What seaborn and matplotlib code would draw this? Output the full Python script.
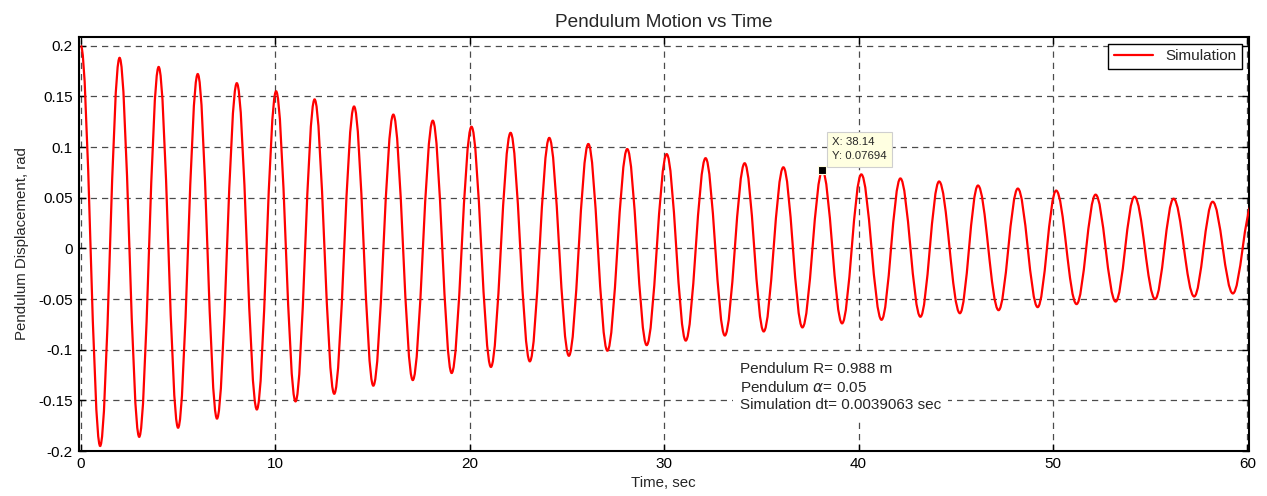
import matplotlib
matplotlib.use("Agg")
import matplotlib.pyplot as plt
from matplotlib.path import Path
from matplotlib.patches import PathPatch
from matplotlib.lines import Line2D
from matplotlib.ticker import FuncFormatter
import pandas as pd
import seaborn as sns

# swing extremes (time in sec, displacement in rad)
peak_time = [0.0, 1.99, 4.00, 6.01, 8.02, 10.04, 12.02, 14.05, 16.07, 18.10,
             20.09, 22.10, 24.09, 26.10, 28.10, 30.13, 32.13, 34.14, 36.13, 38.14,
             40.14, 42.15, 44.14, 46.14, 48.19, 50.16, 52.19, 54.19, 56.20, 58.21,
             60.25]
peak_disp = [0.200, 0.188, 0.179, 0.172, 0.163, 0.155, 0.147, 0.140, 0.132, 0.126,
             0.120, 0.114, 0.109, 0.103, 0.098, 0.093, 0.089, 0.084, 0.080, 0.07694,
             0.073, 0.069, 0.066, 0.062, 0.059, 0.057, 0.053, 0.051, 0.049, 0.046,
             0.044]
trough_time = [0.99, 3.00, 5.00, 7.00, 9.05, 11.04, 13.03, 15.04, 17.07, 19.07,
               21.09, 23.09, 25.10, 27.08, 29.10, 31.11, 33.12, 35.12, 37.11, 39.15,
               41.18, 43.18, 45.21, 47.20, 49.21, 51.21, 53.22, 55.25, 57.26, 59.25]
trough_disp = [-0.195, -0.186, -0.177, -0.168, -0.159, -0.151, -0.1435, -0.1355, -0.130, -0.123,
               -0.117, -0.1115, -0.106, -0.101, -0.0955, -0.091, -0.086, -0.082, -0.078, -0.074,
               -0.0705, -0.0675, -0.064, -0.061, -0.058, -0.055, -0.0525, -0.050, -0.0475, -0.0445]

x_ticks = [0, 10, 20, 30, 40, 50, 60]
y_ticks = [-0.2, -0.15, -0.1, -0.05, 0, 0.05, 0.1, 0.15, 0.2]

tip_x, tip_y = 38.14, 0.07694
pend_R, pend_alpha, sim_dt = 0.988, 0.05, 0.0039063

ext = pd.DataFrame({"t": peak_time + trough_time,
                    "y": peak_disp + trough_disp}).sort_values("t").reset_index(drop=True)

sns.set_style("ticks")
plt.rcParams["font.family"] = ["Liberation Sans", "DejaVu Sans"]
plt.rcParams["axes.unicode_minus"] = False

fig = plt.figure(figsize=(12.67, 4.96), dpi=100)
ax = fig.add_axes([0.062, 0.0907, 0.9238, 0.8347])

# smooth swing between consecutive extremes (flat tangent at each turn)
verts = [(ext.t[0], ext.y[0])]
codes = [Path.MOVETO]
for i in range(1, len(ext)):
    t0, y0 = ext.t[i - 1], ext.y[i - 1]
    t1, y1 = ext.t[i], ext.y[i]
    h = 0.3634 * (t1 - t0)
    verts += [(t0 + h, y0), (t1 - h, y1), (t1, y1)]
    codes += [Path.CURVE4] * 3
ax.add_patch(PathPatch(Path(verts, codes), facecolor="none", edgecolor="red",
                       lw=1.6, zorder=3))

ax.set_xlim(-0.12, 60.08)
ax.set_ylim(-0.2, 0.2086)
ax.set_xticks(x_ticks)
ax.set_yticks(y_ticks)
ax.yaxis.set_major_formatter(FuncFormatter(lambda v, _: f"{v:g}"))
ax.tick_params(direction="in", top=True, right=True, length=5, width=1,
               labelsize=11, pad=4, colors="black")
ax.grid(True, color="black", ls=(0, (5, 4)), lw=0.9, alpha=0.7)
for s in ax.spines.values():
    s.set_linewidth(1.5)
    s.set_color("black")

ax.set_title("Pendulum Motion vs Time", fontsize=13.7, pad=7)
ax.set_xlabel("Time, sec", fontsize=10.8, labelpad=4)
ax.set_ylabel("Pendulum Displacement, rad", fontsize=10.8, labelpad=7)

h = Line2D([], [], color="red", lw=1.6, label="Simulation")
ax.legend(handles=[h], loc="upper right", frameon=True, fancybox=False,
          edgecolor="black", framealpha=1, borderaxespad=0.45, handlelength=2.6,
          fontsize=11, borderpad=0.35)

# data tip
sns.scatterplot(x=[tip_x], y=[tip_y], marker="s", s=40, color="black",
                edgecolor="#fffde0", linewidth=0.8, zorder=5, ax=ax, legend=False)
ax.annotate(f"X: {tip_x}\nY: {tip_y}", xy=(tip_x, tip_y), xytext=(7, 6.5),
            textcoords="offset points", ha="left", va="bottom", fontsize=8.2,
            linespacing=1.55, zorder=6,
            bbox=dict(boxstyle="square,pad=0.45", fc="#ffffe1", ec="#cfcfcf", lw=0.8))

ax.text(33.9, -0.137,
        f"Pendulum R= {pend_R} m\nPendulum $\\alpha$= {pend_alpha}\nSimulation dt= {sim_dt} sec",
        ha="left", va="center", fontsize=11, linespacing=1.3, zorder=4,
        bbox=dict(boxstyle="square,pad=0.45", fc="white", ec="none"))

fig.savefig("out.png", dpi=100)
